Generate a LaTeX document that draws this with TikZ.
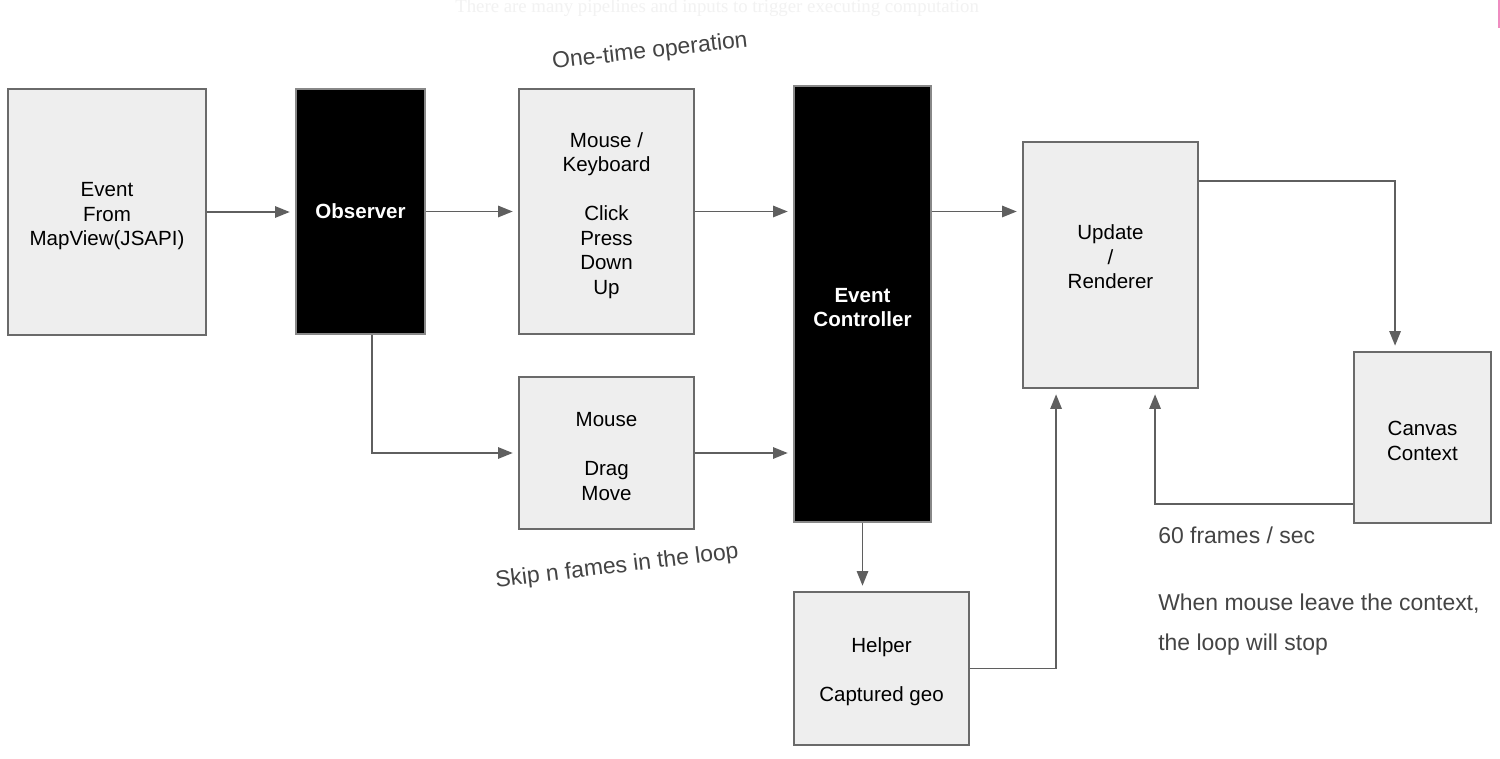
\documentclass[tikz,border=0pt]{standalone}
\usepackage{fontspec}
\setmainfont{Liberation Sans}
\newfontfamily\faintserif{Liberation Serif}
\usetikzlibrary{arrows.meta,calc}
\definecolor{boxfill}{HTML}{EEEEEE}
\definecolor{boxline}{HTML}{6A6A6A}
\definecolor{arrowc}{HTML}{5F5F5F}
\definecolor{labelc}{HTML}{444444}
\definecolor{faintc}{HTML}{F2F2F2}
\definecolor{pinkc}{HTML}{F08CC0}
\tikzset{
  box/.style={draw=boxline, fill=boxfill, line width=1.4pt, align=center, inner sep=0pt,
    font={\fontsize{15.4pt}{18.4pt}\selectfont}},
  blk/.style={box, draw=boxline!80, fill=black, text=white,
    font={\fontsize{15.4pt}{18.4pt}\selectfont\bfseries}},
  conn/.style={draw=arrowc, line width=1.4pt, -{Triangle[length=11pt,width=8.5pt]}, shorten >=4pt},
  lbl/.style={text=labelc, inner sep=0pt, font={\fontsize{17.2pt}{20pt}\selectfont}},
}
\begin{document}
\begin{tikzpicture}[x=0.75pt,y=-0.75pt]
\useasboundingbox (0,0) rectangle (1500,759);
\fill[white] (0,0) rectangle (1500,759);

% faint residual text
\node[text=faintc, inner sep=0pt, anchor=west, font={\faintserif\fontsize{14.1pt}{15pt}\selectfont}] (faint) at (455,8) {There are many pipelines and inputs to trigger executing computation};
\draw[pinkc, line width=1pt] (1499,0) -- (1499,28);

% boxes
\node[box, minimum width=198*0.75pt, minimum height=246*0.75pt] (ev) at (107,212) {\rule{0pt}{17pt}Event\\From\\MapView(JSAPI)};
\node[blk, minimum width=129*0.75pt, minimum height=245*0.75pt] (obs) at (360.5,211.5) {Observer};
\node[box, minimum width=175*0.75pt, minimum height=245*0.75pt] (mk) at (606.5,211.5) {\rule{0pt}{17pt}Mouse /\\Keyboard\\\mbox{}\\Click\\Press\\Down\\Up};
\node[blk, minimum width=137*0.75pt, minimum height=436*0.75pt] (ec) at (862.5,304) {\rule{0pt}{16pt}Event\\Controller};
\node[box, minimum width=175*0.75pt, minimum height=246*0.75pt] (ur) at (1110.5,265) {\rule{0pt}{17pt}Update\\/\\Renderer\\\mbox{}};
\node[box, minimum width=137*0.75pt, minimum height=171*0.75pt] (cv) at (1422.5,437.5) {\rule{0pt}{16pt}Canvas\\Context};
\node[box, minimum width=175*0.75pt, minimum height=152*0.75pt] (md) at (606.5,453) {\rule{0pt}{16pt}Mouse\\\mbox{}\\Drag\\Move};
\node[box, minimum width=175*0.75pt, minimum height=153*0.75pt] (hp) at (881.5,668.5) {\rule{0pt}{16pt}Helper\\\mbox{}\\Captured geo};

% labels
\node[lbl, rotate=6.5] (onetime) at (650,52) {One-time operation};
\node[lbl, rotate=7] (skip) at (617,567) {Skip n fames in the loop};
\node[lbl, anchor=west] (fps) at (1158,535) {60 frames / sec};
\node[lbl, anchor=west] (when1) at (1158,604) {When mouse leave the context,};
\node[lbl, anchor=west] (when2) at (1158,645) {the loop will stop};

% connectors
\draw[conn] (ev.east) -- (ev.east -| obs.west);
\draw[conn] (obs.east) -- (obs.east -| mk.west);
\draw[conn] (mk.east) -- (mk.east -| ec.west);
\draw[conn] (ec.east |- mk.east) -- (ur.west |- mk.east);
\draw[conn] ($(obs.south)+(11.5,0)$) |- (md.west);
\draw[conn] (md.east) -- (md.east -| ec.west);
\draw[conn] (ec.south) -- (ec.south |- hp.north);
\draw[conn] (hp.east) -| ($(ur.south west)+(34,0)$);
\draw[conn] ($(ur.north east)+(0,40)$) -| ($(cv.north west)+(42,0)$);
\draw[conn] ($(cv.south west)+(0,-20)$) -| ($(ur.south west)+(133,0)$);
\end{tikzpicture}
\end{document}
